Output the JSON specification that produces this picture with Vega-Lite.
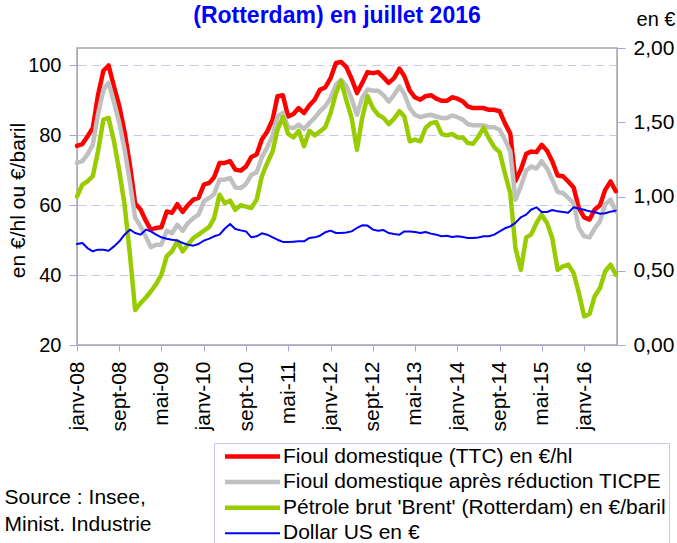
{
  "$schema": "https://vega.github.io/schema/vega-lite/v6.json",
  "width": 540,
  "height": 297,
  "autosize": {"type": "none"},
  "padding": {"left": 77, "top": 48, "right": 60, "bottom": 198},
  "config": {
    "font": "Liberation Sans",
    "view": {"stroke": "#a6a6a6", "strokeWidth": 1.5},
    "axis": {"labelColor": "#000000", "titleColor": "#000000", "labelFontSize": 20, "titleFontSize": 21, "titleFontWeight": "normal", "domainColor": "#a8a8d8", "tickColor": "#a8a8d8"}
  },
  "title": {"text": "(Rotterdam) en juillet 2016", "fontSize": 23, "fontWeight": "bold", "color": "#0000ff", "anchor": "middle", "frame": "group", "offset": 4, "dx": -10, "dy": 23},
  "data": {"values": [
    {"d":"2008-01","ttc":77.0,"ticpe":72.1,"brent":62.5,"usd":0.680},
    {"d":"2008-02","ttc":77.5,"ticpe":72.6,"brent":65.9,"usd":0.687},
    {"d":"2008-03","ttc":79.7,"ticpe":74.5,"brent":66.8,"usd":0.653},
    {"d":"2008-04","ttc":82.1,"ticpe":77.3,"brent":68.3,"usd":0.631},
    {"d":"2008-05","ttc":91.5,"ticpe":86.0,"brent":75.4,"usd":0.642},
    {"d":"2008-06","ttc":98.5,"ticpe":93.0,"brent":84.5,"usd":0.642},
    {"d":"2008-07","ttc":100.0,"ticpe":95.0,"brent":85.0,"usd":0.635},
    {"d":"2008-08","ttc":94.0,"ticpe":89.5,"brent":78.3,"usd":0.664},
    {"d":"2008-09","ttc":88.3,"ticpe":83.5,"brent":69.7,"usd":0.698},
    {"d":"2008-10","ttc":81.0,"ticpe":76.0,"brent":60.2,"usd":0.743},
    {"d":"2008-11","ttc":71.5,"ticpe":66.5,"brent":45.8,"usd":0.777},
    {"d":"2008-12","ttc":60.5,"ticpe":56.5,"brent":30.0,"usd":0.754},
    {"d":"2009-01","ttc":58.8,"ticpe":54.0,"brent":32.0,"usd":0.743},
    {"d":"2009-02","ttc":55.5,"ticpe":51.0,"brent":33.6,"usd":0.777},
    {"d":"2009-03","ttc":53.0,"ticpe":48.0,"brent":35.3,"usd":0.765},
    {"d":"2009-04","ttc":53.5,"ticpe":48.7,"brent":37.4,"usd":0.743},
    {"d":"2009-05","ttc":53.7,"ticpe":48.7,"brent":40.1,"usd":0.725},
    {"d":"2009-06","ttc":58.2,"ticpe":52.7,"brent":45.4,"usd":0.716},
    {"d":"2009-07","ttc":57.8,"ticpe":52.0,"brent":46.8,"usd":0.709},
    {"d":"2009-08","ttc":60.3,"ticpe":54.4,"brent":49.7,"usd":0.703},
    {"d":"2009-09","ttc":58.1,"ticpe":52.7,"brent":46.8,"usd":0.687},
    {"d":"2009-10","ttc":60.0,"ticpe":54.9,"brent":48.7,"usd":0.676},
    {"d":"2009-11","ttc":61.6,"ticpe":56.3,"brent":50.6,"usd":0.669},
    {"d":"2009-12","ttc":62.1,"ticpe":57.3,"brent":51.6,"usd":0.680},
    {"d":"2010-01","ttc":65.9,"ticpe":61.1,"brent":52.7,"usd":0.703},
    {"d":"2010-02","ttc":66.4,"ticpe":62.1,"brent":53.8,"usd":0.716},
    {"d":"2010-03","ttc":68.0,"ticpe":63.2,"brent":56.3,"usd":0.732},
    {"d":"2010-04","ttc":72.1,"ticpe":67.3,"brent":63.0,"usd":0.743},
    {"d":"2010-05","ttc":72.1,"ticpe":67.3,"brent":60.6,"usd":0.783},
    {"d":"2010-06","ttc":72.6,"ticpe":67.8,"brent":61.3,"usd":0.815},
    {"d":"2010-07","ttc":70.2,"ticpe":65.1,"brent":58.7,"usd":0.781},
    {"d":"2010-08","ttc":69.9,"ticpe":64.9,"brent":60.0,"usd":0.772},
    {"d":"2010-09","ttc":71.1,"ticpe":66.1,"brent":59.6,"usd":0.765},
    {"d":"2010-10","ttc":73.8,"ticpe":68.7,"brent":59.2,"usd":0.725},
    {"d":"2010-11","ttc":74.5,"ticpe":69.4,"brent":61.6,"usd":0.732},
    {"d":"2010-12","ttc":78.8,"ticpe":73.7,"brent":68.3,"usd":0.752},
    {"d":"2011-01","ttc":81.1,"ticpe":76.6,"brent":72.1,"usd":0.743},
    {"d":"2011-02","ttc":84.5,"ticpe":80.0,"brent":75.4,"usd":0.725},
    {"d":"2011-03","ttc":91.2,"ticpe":85.4,"brent":81.6,"usd":0.709},
    {"d":"2011-04","ttc":91.5,"ticpe":86.4,"brent":85.2,"usd":0.694},
    {"d":"2011-05","ttc":85.4,"ticpe":82.3,"brent":80.4,"usd":0.694},
    {"d":"2011-06","ttc":86.1,"ticpe":82.1,"brent":79.4,"usd":0.696},
    {"d":"2011-07","ttc":87.8,"ticpe":83.1,"brent":81.3,"usd":0.698},
    {"d":"2011-08","ttc":86.4,"ticpe":81.8,"brent":76.9,"usd":0.698},
    {"d":"2011-09","ttc":88.6,"ticpe":83.5,"brent":81.3,"usd":0.721},
    {"d":"2011-10","ttc":90.2,"ticpe":85.0,"brent":80.0,"usd":0.725},
    {"d":"2011-11","ttc":93.1,"ticpe":86.9,"brent":81.1,"usd":0.736},
    {"d":"2011-12","ttc":93.7,"ticpe":88.3,"brent":82.3,"usd":0.759},
    {"d":"2012-01","ttc":96.4,"ticpe":90.7,"brent":86.4,"usd":0.770},
    {"d":"2012-02","ttc":100.7,"ticpe":94.5,"brent":92.1,"usd":0.754},
    {"d":"2012-03","ttc":101.0,"ticpe":95.9,"brent":95.5,"usd":0.754},
    {"d":"2012-04","ttc":99.5,"ticpe":94.2,"brent":90.0,"usd":0.757},
    {"d":"2012-05","ttc":96.2,"ticpe":90.5,"brent":85.0,"usd":0.765},
    {"d":"2012-06","ttc":92.1,"ticpe":85.9,"brent":75.9,"usd":0.788},
    {"d":"2012-07","ttc":95.0,"ticpe":90.7,"brent":85.0,"usd":0.806},
    {"d":"2012-08","ttc":98.1,"ticpe":93.1,"brent":91.2,"usd":0.804},
    {"d":"2012-09","ttc":97.8,"ticpe":92.8,"brent":87.8,"usd":0.777},
    {"d":"2012-10","ttc":98.1,"ticpe":92.8,"brent":85.9,"usd":0.770},
    {"d":"2012-11","ttc":96.6,"ticpe":91.5,"brent":85.0,"usd":0.774},
    {"d":"2012-12","ttc":95.0,"ticpe":89.7,"brent":83.2,"usd":0.754},
    {"d":"2013-01","ttc":96.4,"ticpe":91.6,"brent":84.8,"usd":0.747},
    {"d":"2013-02","ttc":99.1,"ticpe":94.0,"brent":86.9,"usd":0.743},
    {"d":"2013-03","ttc":96.9,"ticpe":91.8,"brent":85.4,"usd":0.765},
    {"d":"2013-04","ttc":92.8,"ticpe":87.8,"brent":78.3,"usd":0.765},
    {"d":"2013-05","ttc":90.9,"ticpe":85.9,"brent":78.8,"usd":0.761},
    {"d":"2013-06","ttc":90.2,"ticpe":85.2,"brent":78.3,"usd":0.754},
    {"d":"2013-07","ttc":91.2,"ticpe":85.6,"brent":82.1,"usd":0.761},
    {"d":"2013-08","ttc":91.5,"ticpe":85.9,"brent":83.5,"usd":0.750},
    {"d":"2013-09","ttc":90.5,"ticpe":85.4,"brent":83.8,"usd":0.743},
    {"d":"2013-10","ttc":89.9,"ticpe":85.0,"brent":80.4,"usd":0.732},
    {"d":"2013-11","ttc":89.9,"ticpe":85.0,"brent":80.0,"usd":0.736},
    {"d":"2013-12","ttc":90.9,"ticpe":85.7,"brent":80.4,"usd":0.727},
    {"d":"2014-01","ttc":90.5,"ticpe":85.2,"brent":79.4,"usd":0.732},
    {"d":"2014-02","ttc":89.7,"ticpe":84.5,"brent":79.4,"usd":0.727},
    {"d":"2014-03","ttc":88.3,"ticpe":83.2,"brent":77.8,"usd":0.721},
    {"d":"2014-04","ttc":87.8,"ticpe":82.9,"brent":77.6,"usd":0.721},
    {"d":"2014-05","ttc":87.8,"ticpe":82.9,"brent":79.6,"usd":0.724},
    {"d":"2014-06","ttc":87.8,"ticpe":82.9,"brent":82.2,"usd":0.732},
    {"d":"2014-07","ttc":87.3,"ticpe":82.3,"brent":79.2,"usd":0.732},
    {"d":"2014-08","ttc":87.3,"ticpe":82.3,"brent":76.6,"usd":0.743},
    {"d":"2014-09","ttc":86.9,"ticpe":81.6,"brent":75.2,"usd":0.765},
    {"d":"2014-10","ttc":83.5,"ticpe":78.8,"brent":69.2,"usd":0.786},
    {"d":"2014-11","ttc":80.5,"ticpe":75.4,"brent":63.5,"usd":0.799},
    {"d":"2014-12","ttc":67.0,"ticpe":61.6,"brent":47.7,"usd":0.822},
    {"d":"2015-01","ttc":70.2,"ticpe":65.4,"brent":41.5,"usd":0.860},
    {"d":"2015-02","ttc":74.7,"ticpe":69.9,"brent":50.8,"usd":0.878},
    {"d":"2015-03","ttc":75.4,"ticpe":71.1,"brent":51.6,"usd":0.911},
    {"d":"2015-04","ttc":75.2,"ticpe":70.5,"brent":54.9,"usd":0.927},
    {"d":"2015-05","ttc":77.3,"ticpe":72.6,"brent":57.3,"usd":0.896},
    {"d":"2015-06","ttc":75.6,"ticpe":70.5,"brent":54.9,"usd":0.896},
    {"d":"2015-07","ttc":72.6,"ticpe":67.3,"brent":50.6,"usd":0.909},
    {"d":"2015-08","ttc":68.5,"ticpe":63.8,"brent":41.5,"usd":0.900},
    {"d":"2015-09","ttc":68.3,"ticpe":63.5,"brent":42.5,"usd":0.896},
    {"d":"2015-10","ttc":66.8,"ticpe":62.1,"brent":43.0,"usd":0.891},
    {"d":"2015-11","ttc":65.1,"ticpe":60.6,"brent":40.6,"usd":0.927},
    {"d":"2015-12","ttc":59.2,"ticpe":53.5,"brent":34.9,"usd":0.918},
    {"d":"2016-01","ttc":56.5,"ticpe":51.1,"brent":28.2,"usd":0.911},
    {"d":"2016-02","ttc":55.9,"ticpe":50.8,"brent":28.9,"usd":0.900},
    {"d":"2016-03","ttc":58.7,"ticpe":53.3,"brent":33.9,"usd":0.896},
    {"d":"2016-04","ttc":60.0,"ticpe":55.4,"brent":36.3,"usd":0.884},
    {"d":"2016-05","ttc":64.4,"ticpe":60.2,"brent":41.1,"usd":0.887},
    {"d":"2016-06","ttc":66.8,"ticpe":61.6,"brent":43.0,"usd":0.898},
    {"d":"2016-07","ttc":64.0,"ticpe":58.2,"brent":40.1,"usd":0.905}
  ]},
  "layer": [
    {
      "transform": [{"fold": ["ttc", "ticpe", "brent"]}],
      "mark": {"type": "line", "strokeWidth": 4.5, "strokeJoin": "round", "strokeCap": "round"},
      "encoding": {
        "x": {"field": "d", "type": "temporal",
          "scale": {"type": "utc", "domain": [{"year": 2008, "month": 1, "date": 1, "utc": true}, {"year": 2016, "month": 7, "date": 8, "utc": true}]},
          "axis": {
            "values": [
              {"year": 2008, "month": 1, "date": 1, "utc": true},
              {"year": 2008, "month": 9, "date": 1, "utc": true},
              {"year": 2009, "month": 5, "date": 1, "utc": true},
              {"year": 2010, "month": 1, "date": 1, "utc": true},
              {"year": 2010, "month": 9, "date": 1, "utc": true},
              {"year": 2011, "month": 5, "date": 1, "utc": true},
              {"year": 2012, "month": 1, "date": 1, "utc": true},
              {"year": 2012, "month": 9, "date": 1, "utc": true},
              {"year": 2013, "month": 5, "date": 1, "utc": true},
              {"year": 2014, "month": 1, "date": 1, "utc": true},
              {"year": 2014, "month": 9, "date": 1, "utc": true},
              {"year": 2015, "month": 5, "date": 1, "utc": true},
              {"year": 2016, "month": 1, "date": 1, "utc": true}
            ],
            "labelExpr": "['janv','févr','mars','avr','mai','juin','juil','août','sept','oct','nov','déc'][utcmonth(datum.value)] + '-' + utcFormat(datum.value, '%y')",
            "labelAngle": -90, "labelAlign": "right", "labelBaseline": "middle", "labelPadding": 10, "tickSize": 6, "labelFontSize": 21,
            "grid": false, "labelOverlap": false,
            "title": ["Source : Insee,", "Minist. Industrie"],
            "titleX": -73, "titleY": 158, "titleAlign": "left", "titleAnchor": null, "titleBaseline": "alphabetic", "titleLineHeight": 27, "titleAngle": 0
          }
        },
        "y": {"field": "value", "type": "quantitative",
          "scale": {"domain": [20, 105], "nice": false, "zero": false},
          "axis": {"orient": "left", "values": [20, 40, 60, 80, 100], "grid": true, "gridDash": [9, 5], "gridColor": "#c8c8f4", "gridWidth": 1,
            "tickSize": 8, "labelPadding": 8, "title": "en €/hl ou €/baril",
            "titleX": -53, "titleY": 152, "titleAngle": -90, "titleAlign": "center", "titleBaseline": "alphabetic", "titleAnchor": null}
        },
        "color": {"field": "key", "type": "nominal",
          "scale": {"domain": ["ttc", "ticpe", "brent", "usd"], "range": ["#ff0000", "#c0c0c0", "#99cc00", "#0000ff"]},
          "legend": {"orient": "none", "legendX": 137, "legendY": 395, "title": null, "direction": "vertical",
            "symbolType": "M-5,0H5", "symbolSize": 121, "symbolOffset": 25, "labelOffset": 20,
            "labelFontSize": 21, "labelLimit": 600, "rowPadding": 3.6, "padding": 3,
            "strokeColor": "#c8c8f4", "fillColor": "#ffffff",
            "labelExpr": "datum.label == 'ttc' ? 'Fioul domestique (TTC) en €/hl' : datum.label == 'ticpe' ? 'Fioul domestique après réduction TICPE' : datum.label == 'brent' ? \"Pétrole brut 'Brent' (Rotterdam) en €/baril\" : 'Dollar US en €'",
            "encode": {"symbols": {"update": {"strokeWidth": {"signal": "datum.value == 'usd' ? 2 : 4.5"}}}}}
        }
      }
    },
    {
      "transform": [{"fold": ["usd"]}],
      "mark": {"type": "line", "strokeWidth": 2, "strokeJoin": "round", "strokeCap": "round"},
      "encoding": {
        "x": {"field": "d", "type": "temporal"},
        "y": {"field": "value", "type": "quantitative",
          "scale": {"domain": [0, 2], "nice": false},
          "axis": {"orient": "right", "values": [0, 0.5, 1, 1.5, 2], "grid": false, "tickSize": 8, "labelPadding": 8, "labelFontSize": 21,
            "labelExpr": "replace(format(datum.value, '.2f'), '.', ',')",
            "title": "en €", "titleFontSize": 20, "titleAngle": 0, "titleX": 58, "titleY": -23, "titleAlign": "right", "titleBaseline": "alphabetic", "titleAnchor": null}
        },
        "color": {"field": "key", "type": "nominal"}
      }
    }
  ],
  "resolve": {"scale": {"y": "independent"}}
}
